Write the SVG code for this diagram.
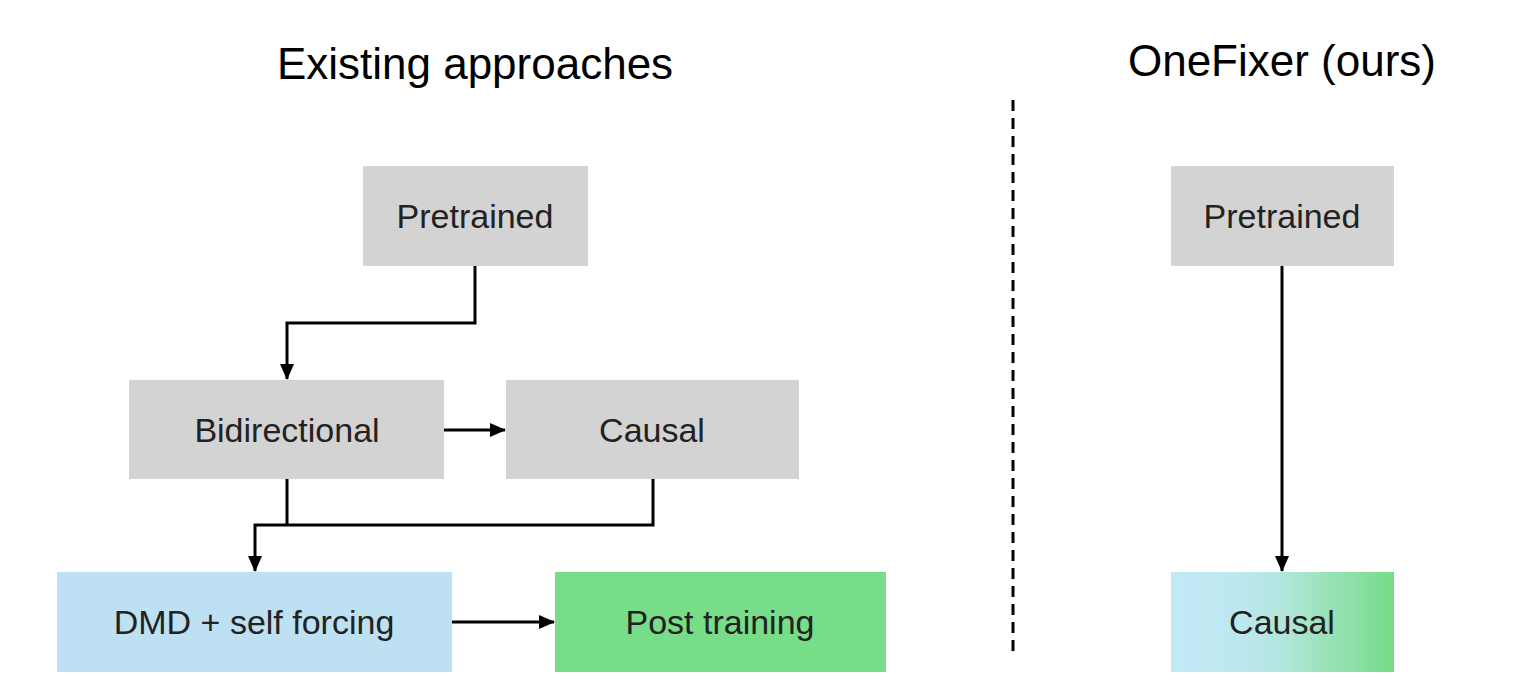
<svg xmlns="http://www.w3.org/2000/svg" width="1538" height="692" viewBox="0 0 1538 692">
<style>
text{font-family:"Liberation Sans",Arial,sans-serif;fill:#222;text-anchor:middle;dominant-baseline:central}
.t{font-size:44px;fill:#000}
.l{font-size:34px}
.g{fill:#d3d3d3}
.c{fill:none;stroke:#000;stroke-width:3}
</style>
<defs>
<marker id="a" markerWidth="16" markerHeight="14" refX="15" refY="7" orient="auto" markerUnits="userSpaceOnUse"><path d="M0,0L16,7L0,14z" fill="#000"/></marker>
<linearGradient id="gr" x1="0" x2="1"><stop offset="0" stop-color="#c2e9f7"/><stop offset="0.3" stop-color="#bde8f0"/><stop offset="0.5" stop-color="#b2e6dc"/><stop offset="1" stop-color="#76dc86"/></linearGradient>
</defs>
<rect width="1538" height="692" fill="#fff"/>
<text class="t" x="475" y="63">Existing approaches</text>
<text class="t" x="1282" y="60">OneFixer (ours)</text>
<line x1="1013" y1="100" x2="1013" y2="658" stroke="#000" stroke-width="3" stroke-dasharray="11,7"/>
<g id="pretrained1"><rect class="g" x="363" y="166" width="225" height="100"/><text class="l" x="475" y="216">Pretrained</text></g>
<g id="bidirectional"><rect class="g" x="129" y="380" width="315" height="99"/><text class="l" x="287" y="430">Bidirectional</text></g>
<g id="causal1"><rect class="g" x="506" y="380" width="293" height="99"/><text class="l" x="652" y="430">Causal</text></g>
<g id="dmd"><rect x="57" y="572" width="395" height="100" fill="#bde0f2"/><text class="l" x="254" y="622">DMD + self forcing</text></g>
<g id="post"><rect x="555" y="572" width="331" height="100" fill="#77dd88"/><text class="l" x="720" y="622">Post training</text></g>
<g id="pretrained2"><rect class="g" x="1171" y="166" width="223" height="100"/><text class="l" x="1282" y="216">Pretrained</text></g>
<g id="causal2"><rect x="1171" y="572" width="223" height="100" fill="url(#gr)"/><text class="l" x="1282" y="622">Causal</text></g>
<g id="connectors">
<path class="c" d="M475,266V323H287V379" marker-end="url(#a)"/>
<path class="c" d="M444,430H505" marker-end="url(#a)"/>
<path class="c" d="M287,479V525M653,479V525H255V571" marker-end="url(#a)"/>
<path class="c" d="M452,622H554" marker-end="url(#a)"/>
<path class="c" d="M1282,266V571" marker-end="url(#a)"/>
</g>
</svg>
